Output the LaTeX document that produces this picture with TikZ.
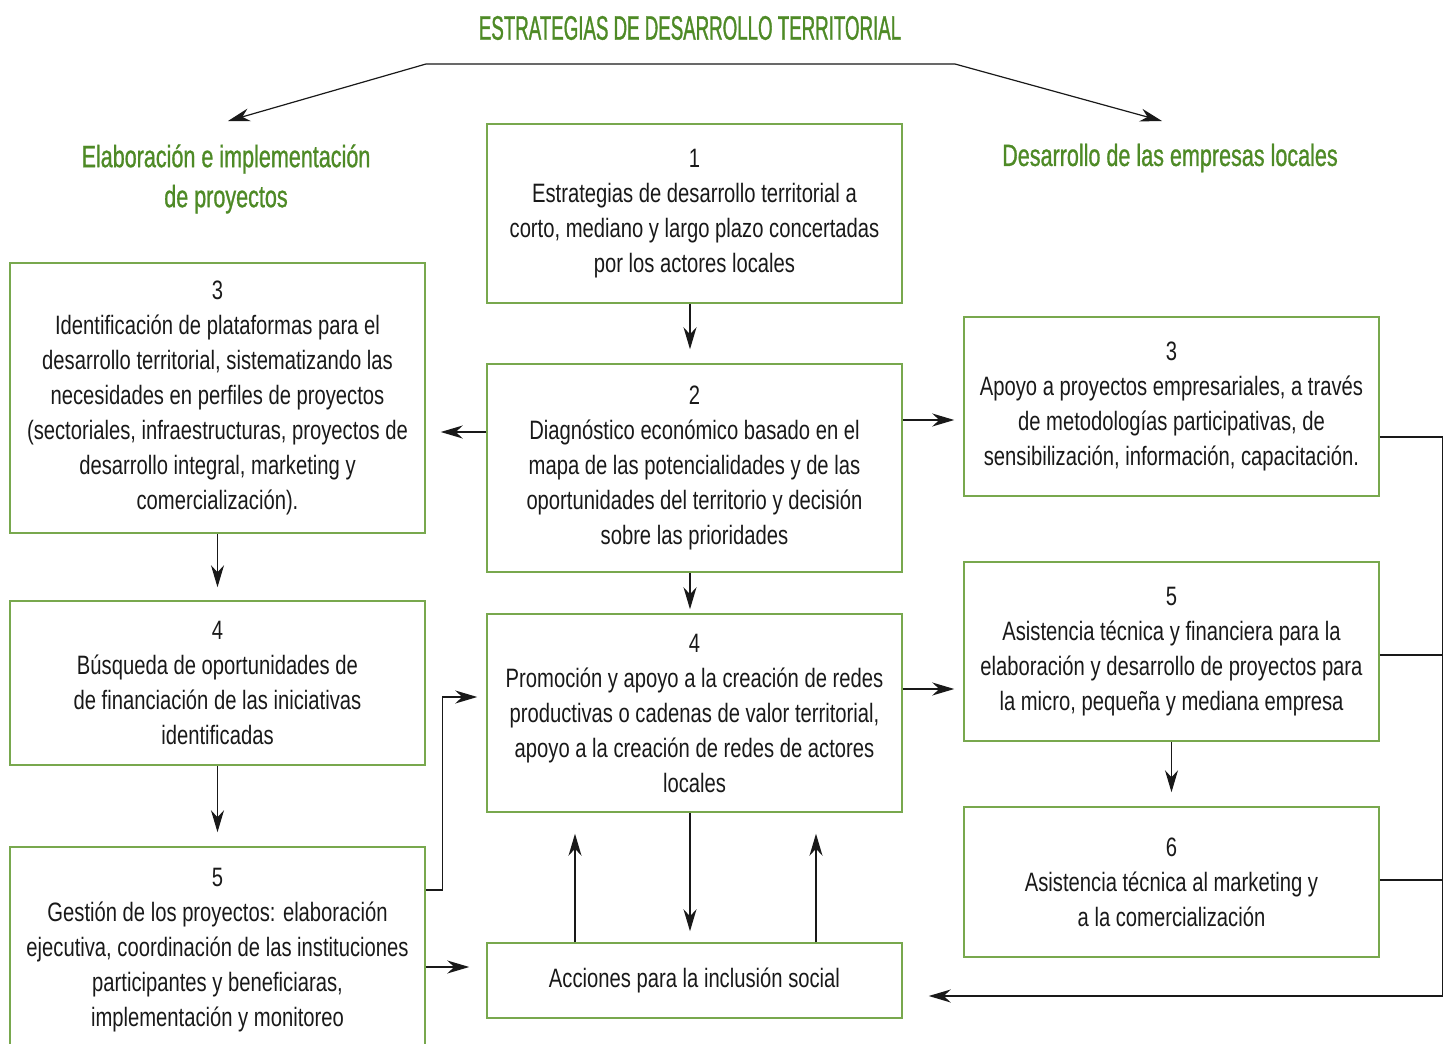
\documentclass[tikz,border=0pt]{standalone}
\usepackage{fontspec}
\setmainfont[FakeStretch=0.76]{Liberation Sans}
\newfontfamily\headfont[FakeStretch=0.70,FakeBold=0.9]{Liberation Sans}
\newfontfamily\titlefont[FakeStretch=0.55,FakeBold=0.9]{Liberation Sans}
\usetikzlibrary{arrows.meta}
\definecolor{leaf}{RGB}{78, 138, 38}
\definecolor{frame}{RGB}{120, 168, 78}
\definecolor{ink}{RGB}{25, 25, 25}
\tikzstyle{arrow} = [
    line width=0.6pt,
    -{Stealth[length=11pt,width=6.5pt,inset=3.5pt]},
    draw=ink
]
\tikzstyle{box} = [
    rectangle,
    minimum width=207.5pt,
    align=center,
    draw=frame,
    line width=0.75pt,
    text=ink,
    font=\fontsize{13.3}{17.5}\selectfont
]
\tikzstyle{heading} = [
    align=center,
    text=leaf,
    font=\headfont\fontsize{15.4}{20}\selectfont
]

\begin{document}
\begin{tikzpicture}[x=0.5pt, y=-0.5pt]
    \useasboundingbox (0,0) rectangle (1448,1044);

    % headings
    \node[heading, font=\titlefont\fontsize{17}{20}\selectfont] (title) at (690,28) {ESTRATEGIAS DE DESARROLLO TERRITORIAL};
    \node[heading] (proj) at (226,179) {Elaboración e implementación\\de proyectos};
    \node[heading] (firms) at (1170,158) {Desarrollo de las empresas locales};
    \coordinate (fork-l) at (426,64);
    \coordinate (fork-r) at (955,64);
    \coordinate (tip-l) at (228,121);
    \coordinate (tip-r) at (1162,121);

    % centre column
    \node[box, minimum height=89.5pt] (plan) at (694.5,213.5) {1\\Estrategias de desarrollo territorial a\\corto, mediano y largo plazo concertadas\\por los actores locales};
    \node[box, minimum height=104pt] (diag) at (694.5,468) {2\\Diagnóstico económico basado en el\\mapa de las potencialidades y de las\\oportunidades del territorio y decisión\\sobre las prioridades};
    \node[box, minimum height=99pt] (redes) at (694.5,713) {4\\Promoción y apoyo a la creación de redes\\productivas o cadenas de valor territorial,\\apoyo a la creación de redes de actores\\locales};
    \node[box, minimum height=37.5pt] (social) at (694.5,980.5) {Acciones para la inclusión social};

    % left column
    \node[box, minimum height=135pt] (plataf) at (217.5,398) {3\\Identificación de plataformas para el\\desarrollo territorial, sistematizando las\\necesidades en perfiles de proyectos\\(sectoriales, infraestructuras, proyectos de\\desarrollo integral, marketing y\\comercialización).};
    \node[box, minimum height=82pt] (financ) at (217.5,683) {4\\Búsqueda de  oportunidades de\\de financiación de las iniciativas\\identificadas};
    \node[box, minimum height=103pt] (gestion) at (217.5,950) {5\\Gestión de los proyectos: elaboración\\ejecutiva, coordinación de las instituciones\\participantes y beneficiaras,\\implementación y  monitoreo};

    % right column
    \node[box, minimum height=89.5pt] (apoyo) at (1171.5,406.5) {3\\Apoyo a proyectos empresariales, a través\\de metodologías participativas, de\\sensibilización, información, capacitación.};
    \node[box, minimum height=89.5pt] (asist) at (1171.5,651.5) {5\\Asistencia técnica y financiera para la\\elaboración y desarrollo de proyectos para\\la micro,  pequeña y mediana empresa};
    \node[box, minimum height=75pt] (market) at (1171.5,882) {6\\Asistencia técnica al marketing y\\a la comercialización};

    % arrows
    \draw[arrow, {Stealth[length=11pt,width=6.5pt,inset=3.5pt]}-{Stealth[length=11pt,width=6.5pt,inset=3.5pt]}] (tip-l) -- (fork-l) -- (fork-r) -- (tip-r);
    \draw[arrow, shorten >=7pt] ([xshift=-2.25pt]plan.south) -- ([xshift=-2.25pt]diag.north);
    \draw[arrow, shorten >=7.5pt] ([yshift=18pt]diag.west) -- ([yshift=-17pt]plataf.east);
    \draw[arrow, shorten >=4.5pt] ([yshift=24pt]diag.east) -- ([yshift=-6.75pt]apoyo.west);
    \draw[arrow, shorten >=2pt] ([xshift=-2.25pt]diag.south) -- ([xshift=-2.25pt]redes.north);
    \draw[arrow, shorten >=6.5pt] (plataf) -- (financ);
    \draw[arrow, shorten >=7pt] (financ) -- (gestion);
    \draw[arrow, shorten >=4.5pt] ([yshift=12pt]redes.east) -- ([yshift=-18.75pt]asist.west);
    \draw[arrow, shorten >=7pt] (asist) -- (market);
    \draw[arrow, shorten >=4.5pt] ([yshift=30pt]gestion.east) -- ++(8.5pt,0) |- ([yshift=8pt]redes.west);
    \draw[arrow, shorten >=8.5pt] ([yshift=-8.5pt]gestion.east) -- ([yshift=6.75pt]social.west);
    \draw[arrow, shorten >=5.5pt] ([xshift=-2.25pt]redes.south) -- ([xshift=-2.25pt]social.north);
    \draw[arrow, shorten >=10.5pt] ([xshift=-59.75pt]social.north) -- ([xshift=-59.75pt]redes.south);
    \draw[arrow, shorten >=10.5pt] ([xshift=60.75pt]social.north) -- ([xshift=60.75pt]redes.south);
    \draw[arrow, shorten >=13pt] ([yshift=-15.25pt]apoyo.east) -- ++(31.5pt,0) |- ([yshift=-7.75pt]social.east);
    \draw[arrow, -] ([yshift=-1.75pt]asist.east) -- ++(31.5pt,0);
    \draw[arrow, -] ([yshift=1pt]market.east) -- ++(31.5pt,0);
\end{tikzpicture}
\end{document}
